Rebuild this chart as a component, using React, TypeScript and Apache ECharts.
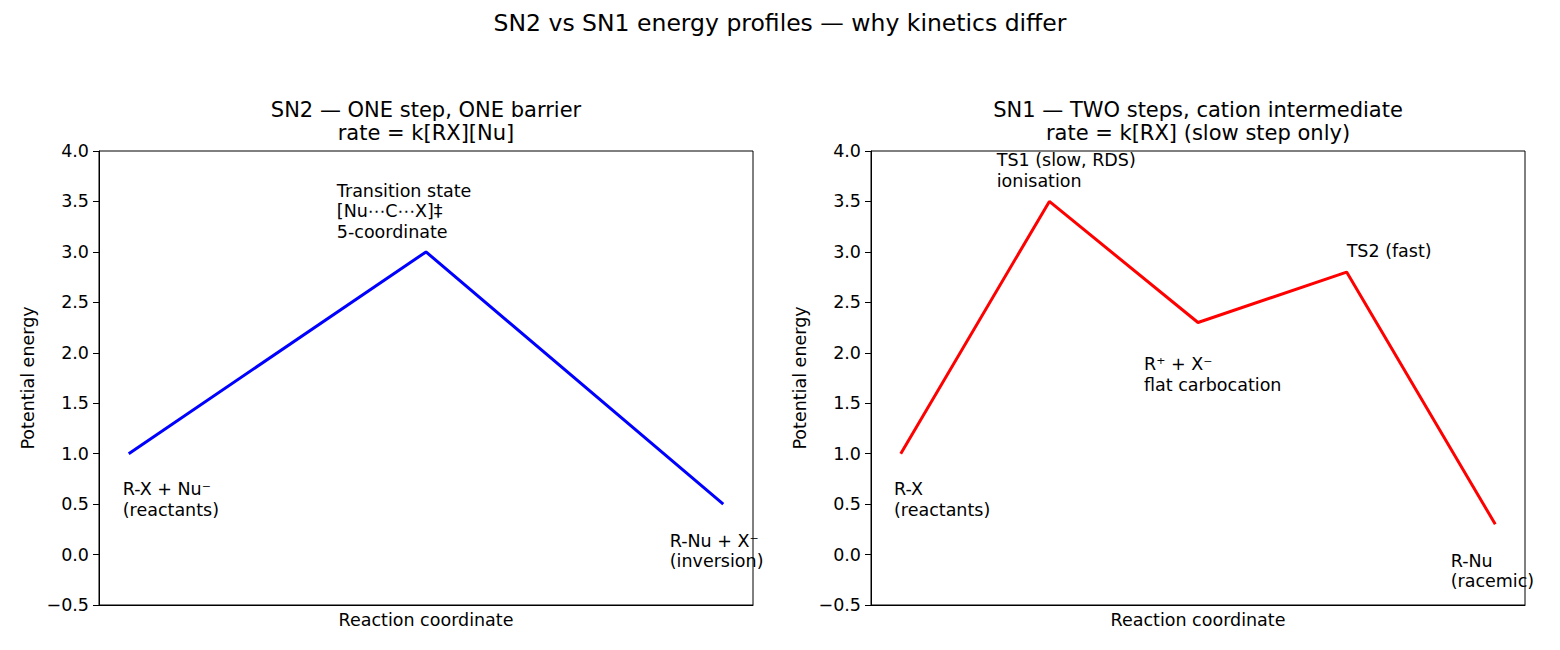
import React, { useEffect, useRef } from "react";
import * as echarts from "echarts";

// Figure and panel titles
const FIG_TITLE = "SN2 vs SN1 energy profiles — why kinetics differ";
const SN2_TITLE = "SN2 — ONE step, ONE barrier\nrate = k[RX][Nu]";
const SN1_TITLE = "SN1 — TWO steps, cation intermediate\nrate = k[RX] (slow step only)";
const X_LABEL = "Reaction coordinate";
const Y_LABEL = "Potential energy";

// SN2 profile: reactants -> TS -> products
const sn2Coord = [0, 1, 2];
const sn2Energy = [1.0, 3.0, 0.5];

// SN1 profile: reactants -> TS1 -> cation -> TS2 -> products
const sn1Coord = [0, 1, 2, 3, 4];
const sn1Energy = [1.0, 3.5, 2.3, 2.8, 0.3];

// Annotation texts with their anchor (top-left) in data coordinates
const sn2Notes = [
  "R-X + Nu⁻\n(reactants)",
  "Transition state\n[Nu⋯C⋯X]‡\n5-coordinate",
  "R-Nu + X⁻\n(inversion)",
];
const sn2NoteX = [-0.02, 0.7, 1.82];
const sn2NoteY = [0.75, 3.71, 0.24];

const sn1Notes = [
  "R-X\n(reactants)",
  "TS1 (slow, RDS)\nionisation",
  "R⁺ + X⁻\nflat carbocation",
  "TS2 (fast)",
  "R-Nu\n(racemic)",
];
const sn1NoteX = [-0.045, 0.646, 1.637, 3.0, 3.7];
const sn1NoteY = [0.75, 4.01, 1.99, 3.11, 0.04];

// Axis ranges
const sn2XRange = [-0.1, 2.1];
const sn1XRange = [-0.2, 4.2];
const yRange = [-0.5, 4.0];
const yStep = 0.5;

const FONT = "DejaVu Sans";

const fmtTick = (v: number) =>
  v < 0 ? "\u2212" + Math.abs(v).toFixed(1) : v.toFixed(1);

export default function App() {
  const ref = useRef<HTMLDivElement>(null);

  useEffect(() => {
    if (!ref.current) return;
    const chart = echarts.init(ref.current, undefined, { renderer: "svg" });

    const grids = [
      { left: 99, top: 151, width: 654, height: 454 },
      { left: 871, top: 151, width: 654, height: 454 },
    ].map((g) => ({
      ...g,
      show: true,
      borderColor: "#000",
      borderWidth: 1,
      backgroundColor: "transparent",
    }));

    const xAxis = [sn2XRange, sn1XRange].map((r, i) => ({
      type: "value" as const,
      gridIndex: i,
      min: r[0],
      max: r[1],
      name: X_LABEL,
      nameLocation: "middle" as const,
      nameGap: 6,
      nameTextStyle: {
        fontFamily: FONT,
        fontSize: 17.5,
        color: "#000",
        verticalAlign: "top" as const,
      },
      axisLine: {
        show: true,
        onZero: false,
        lineStyle: { color: "#000", width: 1 },
      },
      axisTick: { show: false },
      axisLabel: { show: false },
      splitLine: { show: false },
    }));

    const yAxis = [0, 1].map((i) => ({
      type: "value" as const,
      gridIndex: i,
      min: yRange[0],
      max: yRange[1],
      interval: yStep,
      name: Y_LABEL,
      nameLocation: "middle" as const,
      nameRotate: 90,
      nameGap: 62,
      nameTextStyle: { fontFamily: FONT, fontSize: 17.5, color: "#000" },
      axisLine: {
        show: true,
        onZero: false,
        lineStyle: { color: "#000", width: 1 },
      },
      axisTick: {
        show: true,
        inside: false,
        length: 6,
        lineStyle: { color: "#000", width: 1 },
      },
      axisLabel: {
        show: true,
        margin: 10,
        fontFamily: FONT,
        fontSize: 17.5,
        color: "#000",
        formatter: fmtTick,
      },
      splitLine: { show: false },
    }));

    const noteSeries = (
      texts: string[],
      xs: number[],
      ys: number[],
      idx: number
    ) => ({
      type: "scatter" as const,
      xAxisIndex: idx,
      yAxisIndex: idx,
      symbolSize: 0,
      silent: true,
      clip: false,
      itemStyle: { opacity: 1 },
      data: xs.map((x, k) => [x, ys[k]]),
      label: {
        show: true,
        position: [0, 0],
        align: "left",
        verticalAlign: "top",
        fontFamily: FONT,
        fontSize: 17.5,
        lineHeight: 20.5,
        color: "#000",
        opacity: 1,
        formatter: (p: any) => texts[p.dataIndex],
      },
      z: 5,
    });

    const titleText = (
      x: number,
      y: number,
      text: string,
      size: number,
      lineHeight?: number
    ) => ({
      type: "text" as const,
      x,
      y,
      silent: true,
      style: {
        text,
        fill: "#000",
        font: `${size}px "${FONT}"`,
        lineHeight,
        align: "center",
        verticalAlign: "middle",
      },
    });

    chart.setOption({
      animation: false,
      backgroundColor: "#fff",
      grid: grids,
      xAxis,
      yAxis,
      series: [
        {
          type: "line",
          xAxisIndex: 0,
          yAxisIndex: 0,
          data: sn2Coord.map((x, k) => [x, sn2Energy[k]]),
          showSymbol: false,
          symbol: "none",
          lineStyle: { color: "#0000ff", width: 3 },
          silent: true,
        },
        {
          type: "line",
          xAxisIndex: 1,
          yAxisIndex: 1,
          data: sn1Coord.map((x, k) => [x, sn1Energy[k]]),
          showSymbol: false,
          symbol: "none",
          lineStyle: { color: "#ff0000", width: 3 },
          silent: true,
        },
        noteSeries(sn2Notes, sn2NoteX, sn2NoteY, 0),
        noteSeries(sn1Notes, sn1NoteX, sn1NoteY, 1),
      ],
      graphic: [
        titleText(780, 23, FIG_TITLE, 23.5),
        titleText(426, 121.5, SN2_TITLE, 21, 22.5),
        titleText(1198, 121.5, SN1_TITLE, 21, 22.5),
      ],
    });

    return () => chart.dispose();
  }, []);

  return (
    <div
      ref={ref}
      style={{ position: "absolute", left: 0, top: 0, width: 1560, height: 650 }}
    />
  );
}
